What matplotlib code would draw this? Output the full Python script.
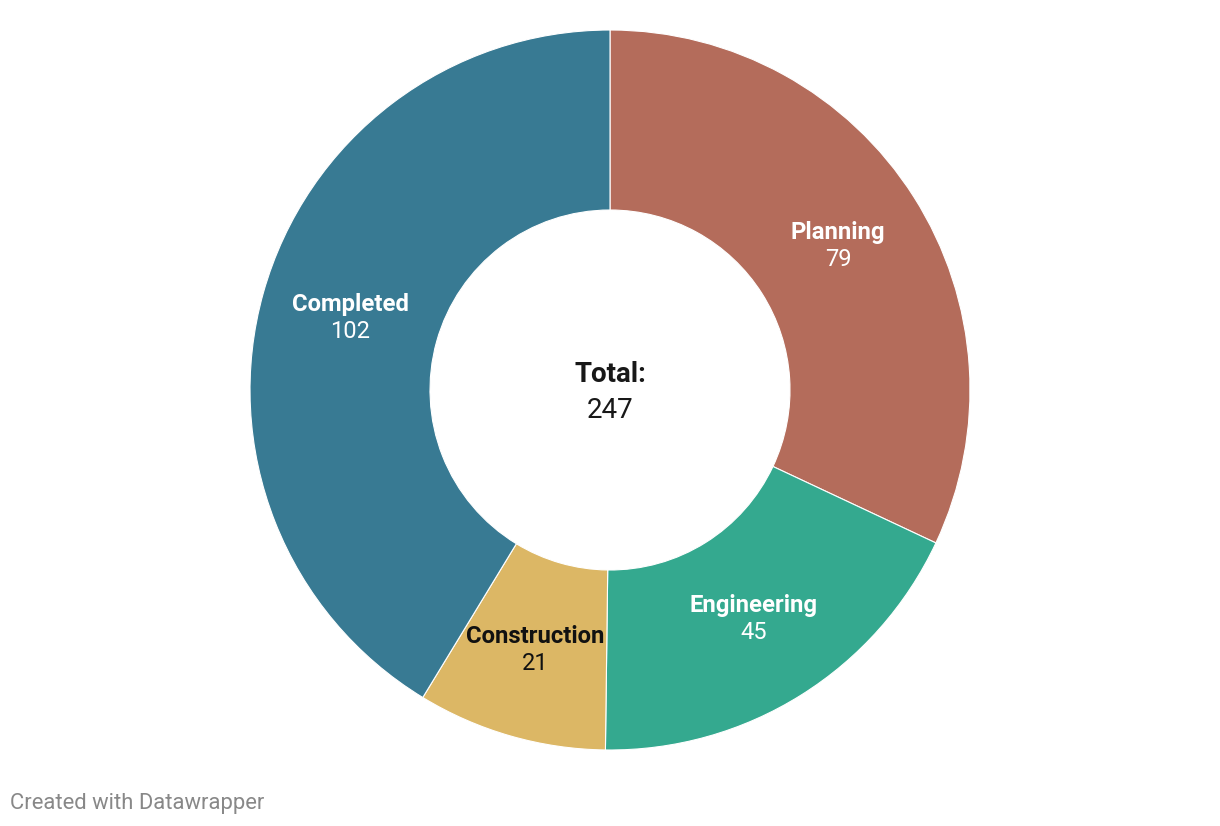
import math

import matplotlib
import matplotlib.pyplot as plt

matplotlib.use('agg')
plt.rcParams['font.family'] = ['Roboto', 'DejaVu Sans']

# chart data
categories = ['Planning', 'Engineering', 'Construction', 'Completed']
values = [79, 45, 21, 102]
colors = ['#b46c5b', '#34a98f', '#dcb765', '#387a93']
label_colors = ['white', 'white', '#111111', 'white']

W, H = 1220, 826
cx, cy = 610, H - 390
r_out = 360
r_in = 180

fig = plt.figure(figsize=(W / 100, H / 100), dpi=100)
ax = fig.add_axes([0, 0, 1, 1])
ax.axis('off')

# donut ring, clockwise from the top
ax.pie(values, colors=colors, startangle=90, counterclock=False,
       center=(cx, cy), radius=r_out,
       wedgeprops=dict(width=r_out - r_in, edgecolor='white', linewidth=0.8))
ax.set_xlim(0, W)
ax.set_ylim(0, H)
ax.set_aspect('equal')

# labels in the middle of each slice
total = sum(values)
start = 0
r_lab = (r_out + r_in) / 2
for name, val, col in zip(categories, values, label_colors):
    mid = (start + val / 2) / total * 2 * math.pi
    start += val
    x = cx + r_lab * math.sin(mid)
    y = cy + r_lab * math.cos(mid)
    ax.text(x, y + 13, name, ha='center', va='center', fontsize=17.2,
            fontweight='bold', color=col)
    ax.text(x, y - 14, str(val), ha='center', va='center', fontsize=17,
            color=col)

# total in the centre
ax.text(cx, cy + 15, 'Total:', ha='center', va='center', fontsize=20,
        fontweight='bold', color='#181818')
ax.text(cx, cy - 20, str(total), ha='center', va='center', fontsize=20,
        color='#181818')

fig.text(10 / W, 1 - 803 / H, 'Created with Datawrapper', ha='left', va='center',
         fontsize=15.8, color='#888888')

plt.savefig('out.png', dpi=100)
plt.close()
